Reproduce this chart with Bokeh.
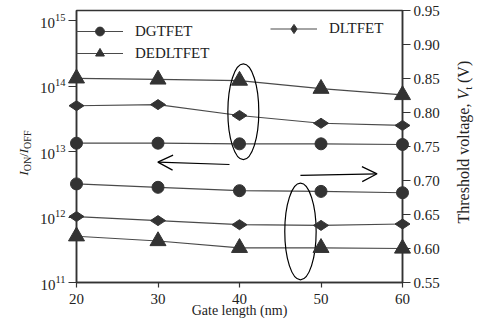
import math
from bokeh.plotting import figure
from bokeh.models import (Range1d, LinearAxis, LinearScale, FixedTicker, PrintfTickFormatter,
                          Legend, LegendItem, Arrow, OpenHead, ColumnDataSource)
from bokeh.core.properties import value
from bokeh.embed import file_html
from bokeh.resources import INLINE

# ---------------- data ----------------
gate_length = [20, 30, 40, 50, 60]
on_off_dgtfet = [1.34e13, 1.34e13, 1.31e13, 1.31e13, 1.28e13]
on_off_dltfet = [5.0e13, 5.2e13, 3.55e13, 2.7e13, 2.5e13]
on_off_dedltfet = [1.31e14, 1.26e14, 1.21e14, 9.1e13, 7.3e13]
vt_dgtfet = [0.695, 0.690, 0.685, 0.684, 0.682]
vt_dltfet = [0.647, 0.641, 0.635, 0.634, 0.636]
vt_dedltfet = [0.618, 0.611, 0.601, 0.601, 0.600]
series_names = ["DGTFET", "DLTFET", "DEDLTFET"]
x_ticks = [20, 30, 40, 50, 60]
left_ticks = [1e11, 1e12, 1e13, 1e14, 1e15]
right_ticks = [0.55, 0.60, 0.65, 0.70, 0.75, 0.80, 0.85, 0.90, 0.95]
x_label = "Gate length (nm)"

# axis-title pieces (text, size, style)
left_title = [("I", "13px", "italic"), ("ON", "10px", "normal"), ("/", "13px", "normal"),
              ("I", "13px", "italic"), ("OFF", "10px", "normal")]
right_title = [("Threshold voltage, ", "16px", "normal"), ("V", "16px", "italic"),
               ("t", "11px", "normal"), ("(V)", "16px", "normal")]

# annotations (data coords, right axis)
ellipse_x = [40.47, 47.48]
ellipse_y = [0.801, 0.625]
ellipse_w = [3.8, 3.85]
ellipse_h = [0.141, 0.142]
arrow_left = (38.77, 0.7235, 29.98, 0.727)
arrow_right = (47.48, 0.7074, 56.88, 0.7098)

FONT = "Liberation Serif"
MK = "#333333"
LN = "#4a4a4a"
AX = "#333333"

p = figure(width=485, height=333, x_range=Range1d(20, 60),
           y_range=Range1d(1e11, 10 ** 15.153), y_axis_type="log",
           output_backend="svg", toolbar_location=None,
           min_border_left=76, min_border_right=83, min_border_top=10, min_border_bottom=51)
p.extra_y_ranges = {"vt": Range1d(0.55, 0.95)}
p.extra_y_scales = {"vt": LinearScale()}

p.xgrid.grid_line_color = None
p.ygrid.grid_line_color = None
p.outline_line_color = AX
p.outline_line_width = 1.5
p.background_fill_color = "white"
p.border_fill_color = "white"

# x axis
xa = p.xaxis[0]
xa.ticker = FixedTicker(ticks=x_ticks)
xa.axis_label = x_label
xa.axis_label_text_font = FONT
xa.axis_label_text_font_size = "14px"
xa.axis_label_text_font_style = "normal"
xa.axis_label_text_color = "#222222"
xa.axis_label_standoff = -4
xa.major_label_standoff = 6

# left axis
ya = p.yaxis[0]
ya.ticker = FixedTicker(ticks=left_ticks)
ya.major_label_standoff = 3

# right axis
ra = LinearAxis(y_range_name="vt", ticker=FixedTicker(ticks=right_ticks),
                formatter=PrintfTickFormatter(format="%.2f"))
p.add_layout(ra, "right")
ra.major_label_standoff = 3

for ax in (xa, ya, ra):
    ax.axis_line_color = AX
    ax.axis_line_width = 1.5
    ax.major_tick_line_color = AX
    ax.major_tick_line_width = 1.2
    ax.major_tick_in = 0
    ax.minor_tick_line_color = None
    ax.major_label_text_font = FONT
    ax.major_label_text_font_size = "15px"
    ax.major_label_text_color = "#222222"
xa.major_tick_out = 5
ya.major_tick_out = 8
ra.major_tick_out = 8

# series
upper = [on_off_dgtfet, on_off_dltfet, on_off_dedltfet]
lower = [vt_dgtfet, vt_dltfet, vt_dedltfet]
markers = ["circle", "diamond", "triangle"]
sizes = [12, 15, 16]
angles = [0, math.pi / 2, 0]
leg_renderers = []
for up, lo, mk, sz, ang in zip(upper, lower, markers, sizes, angles):
    l1 = p.line(gate_length, up, line_color=LN, line_width=1.2)
    s1 = p.scatter(gate_length, up, marker=mk, size=sz, angle=ang, fill_color=MK, line_color=MK,
                   level="overlay")
    p.line(gate_length, lo, line_color=LN, line_width=1.2, y_range_name="vt")
    p.scatter(gate_length, lo, marker=mk, size=sz, angle=ang, fill_color=MK, line_color=MK,
              y_range_name="vt", level="overlay")
    leg_renderers.append([l1, s1])

# ellipses and arrows
p.ellipse(x=ellipse_x, y=ellipse_y, width=ellipse_w, height=ellipse_h, fill_color=None,
          line_color="black", line_width=1.2, y_range_name="vt")
for (xs, ys, xe, ye) in (arrow_left, arrow_right):
    p.add_layout(Arrow(end=OpenHead(size=15, line_width=1.2, line_color="black"),
                       x_start=xs, y_start=ys, x_end=xe, y_end=ye, line_width=1.2,
                       line_color="black", y_range_name="vt"))

# legends
def make_legend(items, location, row_h=23):
    lg = Legend(items=items, location=location, margin=0, padding=5, spacing=0,
                glyph_width=47, glyph_height=row_h, label_height=row_h, label_standoff=12,
                border_line_color=None, background_fill_alpha=0,
                label_text_font=FONT, label_text_font_size="15px",
                label_text_color="#222222")
    p.add_layout(lg)
    return lg

make_legend([LegendItem(label=series_names[0], renderers=leg_renderers[0]),
             LegendItem(label=series_names[2], renderers=leg_renderers[2])], (0, 218), 22)
make_legend([LegendItem(label=series_names[1], renderers=leg_renderers[1])], (194, 242))

# rotated axis titles, anchored at the frame's lower-left corner (x=20, Vt=0.55)
# offsets in pixels from that corner
left_dx = [-53, -49, -53, -53, -49]
left_dy = [-107, -111.3, -125.7, -129.3, -133.6]
right_dx = [387, 387, 391, 387]
right_dy = [-59, -183, -192.8, -199.5]
pieces = left_title + right_title
title_src = ColumnDataSource(dict(
    x=[gate_length[0]] * len(pieces),
    y=[right_ticks[0]] * len(pieces),
    text=[t for t, _, _ in pieces],
    size=[s for _, s, _ in pieces],
    style=[st for _, _, st in pieces],
    dx=left_dx + right_dx,
    dy=left_dy + right_dy,
))
p.text(x="x", y="y", text="text", source=title_src, x_offset="dx", y_offset="dy",
       angle=math.pi / 2, text_align="left", text_baseline="alphabetic",
       text_font=value(FONT), text_font_size="size", text_font_style="style",
       text_color="#222222", y_range_name="vt", level="overlay")

open("out.html", "w").write(file_html(p, INLINE))
